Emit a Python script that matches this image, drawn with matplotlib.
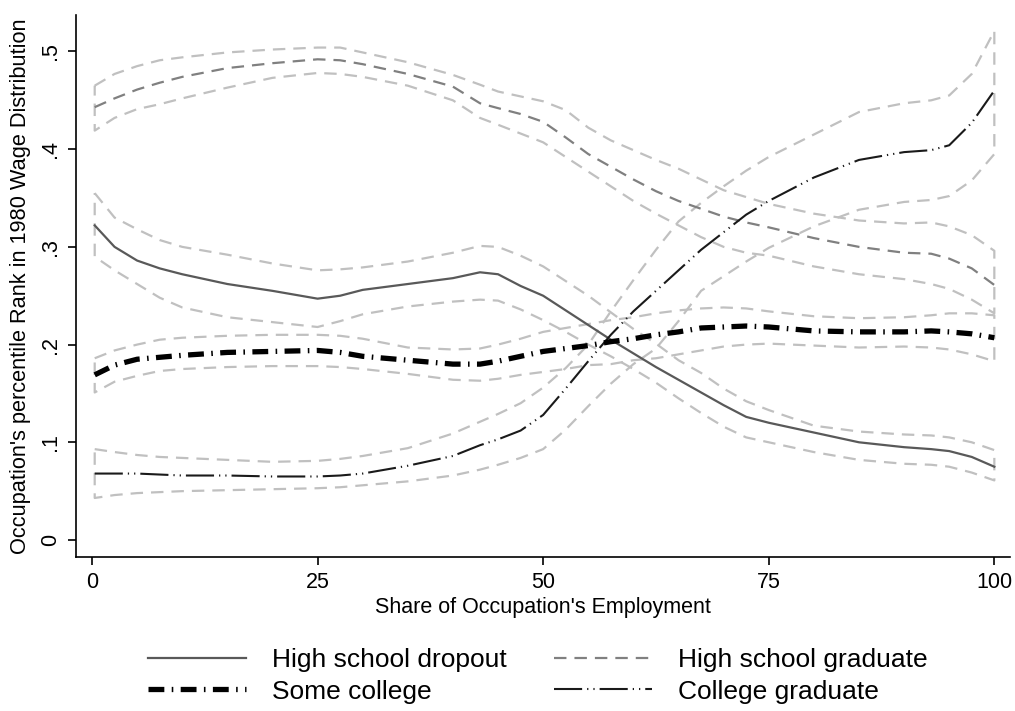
import numpy as np
import matplotlib
matplotlib.use("Agg")
from matplotlib import pyplot as plt
from matplotlib.lines import Line2D

plt.rcParams['font.family'] = ['Liberation Sans', 'DejaVu Sans']

# share of the occupation's employment (x grid for every curve)
share = [0.3, 2.5, 5, 7.5, 10, 15, 20, 25, 27.5, 30, 35, 40, 43, 45, 47.5, 50,
         52.5, 55, 57.5, 60, 62.5, 65, 67.5, 70, 72.5, 75, 80, 85, 90, 93, 95,
         97.5, 100]

# high school dropout: estimate and 95% band
hsd = [.322, .300, .286, .278, .272, .262, .255, .247, .250, .256, .262, .268,
       .274, .272, .260, .250, .235, .220, .205, .191, .177, .164, .151, .138,
       .126, .120, .110, .100, .095, .093, .091, .085, .075]
hsd_hi = [.355, .330, .318, .307, .300, .292, .283, .276, .277, .279, .285, .294,
          .301, .300, .291, .280, .265, .250, .233, .216, .201, .184, .171, .155,
          .142, .133, .117, .111, .108, .107, .105, .100, .092]
hsd_lo = [.290, .276, .262, .248, .238, .228, .223, .218, .224, .231, .239, .244,
          .246, .245, .236, .225, .213, .200, .188, .175, .161, .145, .130, .116,
          .105, .100, .090, .082, .078, .077, .075, .069, .061]

# high school graduate
hsg = [.443, .452, .461, .468, .474, .483, .488, .492, .491, .487, .477, .464,
       .447, .442, .436, .428, .412, .395, .382, .369, .357, .347, .339, .331,
       .325, .320, .309, .300, .294, .293, .288, .278, .261]
hsg_hi = [.465, .477, .485, .491, .494, .499, .502, .504, .504, .499, .489, .476,
          .466, .459, .454, .449, .440, .422, .409, .399, .389, .380, .369, .358,
          .351, .344, .334, .327, .324, .325, .321, .312, .296]
hsg_lo = [.419, .432, .441, .446, .452, .463, .473, .478, .477, .474, .465, .450,
          .432, .425, .416, .407, .392, .377, .362, .347, .334, .322, .310, .300,
          .294, .291, .280, .272, .267, .262, .257, .246, .232]

# some college
smc = [.169, .179, .185, .187, .189, .192, .193, .194, .192, .188, .184, .180,
       .180, .183, .188, .193, .196, .199, .203, .206, .210, .213, .217, .218,
       .219, .218, .214, .213, .213, .214, .213, .211, .207]
smc_hi = [.186, .194, .200, .205, .207, .209, .210, .210, .209, .206, .197, .195,
          .196, .200, .206, .213, .217, .221, .225, .228, .232, .235, .237, .238,
          .237, .234, .229, .227, .228, .230, .232, .232, .230]
smc_lo = [.151, .162, .168, .173, .175, .177, .178, .178, .177, .175, .170, .164,
          .163, .165, .169, .172, .175, .179, .180, .184, .186, .190, .194, .198,
          .200, .201, .199, .197, .198, .197, .195, .190, .183]

# college graduate
cg = [.068, .068, .068, .067, .066, .066, .065, .065, .066, .068, .076, .086,
      .097, .103, .112, .128, .155, .183, .210, .234, .255, .276, .297, .315,
      .333, .347, .371, .389, .397, .399, .404, .427, .460]
cg_hi = [.093, .090, .087, .085, .084, .082, .080, .081, .083, .086, .094, .109,
         .121, .129, .140, .156, .176, .200, .234, .266, .297, .326, .345, .362,
         .378, .392, .415, .438, .447, .450, .455, .477, .521]
cg_lo = [.043, .046, .048, .049, .050, .051, .052, .053, .054, .056, .060, .066,
         .072, .077, .084, .093, .113, .137, .160, .180, .196, .224, .255, .270,
         .285, .299, .321, .338, .346, .348, .352, .368, .395]

labels = ["High school dropout", "Some college", "High school graduate",
          "College graduate"]

ci_col = "#c0c0c0"

sty_hsd = dict(color="#595959", lw=1.6, ls="-")
sty_hsg = dict(color="#808080", lw=1.6, ls=(0, (5.6, 3.6)))
sty_smc = dict(color="black", lw=3.8, ls=(0, (3.0, 1.4, 0.3, 1.4)))
sty_cg = dict(color="#1a1a1a", lw=1.5, ls=(0, (13.5, 2.4, 0.6, 2.4, 0.6, 2.4)))

fig = plt.figure(figsize=(10.15, 7.11), dpi=100, facecolor="w")
ax = fig.add_axes([0.0749, 0.2166, 0.9202, 0.7624])

x = np.array(share)


def band(lo, hi):
    # closed outline of the confidence band, dashed light gray
    xs = np.concatenate([x, x[::-1], x[:1]])
    ys = np.concatenate([hi, lo[::-1], hi[:1]])
    ax.plot(xs, ys, color=ci_col, lw=1.6, ls=(0, (5.6, 3.6)), zorder=1)


for lo, hi in [(hsd_lo, hsd_hi), (hsg_lo, hsg_hi), (smc_lo, smc_hi), (cg_lo, cg_hi)]:
    band(np.array(lo), np.array(hi))

ax.plot(x, hsd, zorder=3, **sty_hsd)
ax.plot(x, hsg, zorder=3, **sty_hsg)
ax.plot(x, cg, zorder=3, **sty_cg)
ax.plot(x, smc, zorder=4, solid_capstyle="butt", **sty_smc)

ax.set_xlim(-1.77, 101.74)
ax.set_ylim(-0.0174, 0.5374)

ax.set_xticks([0, 25, 50, 75, 100])
ax.set_yticks([0, .1, .2, .3, .4, .5])
ax.set_yticklabels(["0", ".1", ".2", ".3", ".4", ".5"])

for s in ["top", "right"]:
    ax.spines[s].set_visible(False)
for s in ["left", "bottom"]:
    ax.spines[s].set_linewidth(1.2)

ax.tick_params(axis="both", length=6, width=1.2, labelsize=15.5, pad=5)
ax.tick_params(axis="y", labelrotation=90)
for t in ax.get_yticklabels():
    t.set_va("center")

ax.set_xlabel("Share of Occupation's Employment", fontsize=15.5, labelpad=3)
ax.set_ylabel("Occupation's percentile Rank in 1980 Wage Distribution",
              fontsize=15.7, labelpad=6)

handles = [Line2D([], [], **sty_hsd), Line2D([], [], **sty_smc),
           Line2D([], [], **sty_hsg), Line2D([], [], **sty_cg)]
fig.legend(handles, labels, ncol=2, loc="center",
           bbox_to_anchor=(538 / 1015, 1 - 676 / 711), frameon=False,
           fontsize=19, handlelength=3.7, handletextpad=1.0,
           columnspacing=1.8, labelspacing=0.27)

fig.savefig("out.png", dpi=100, facecolor="w")
